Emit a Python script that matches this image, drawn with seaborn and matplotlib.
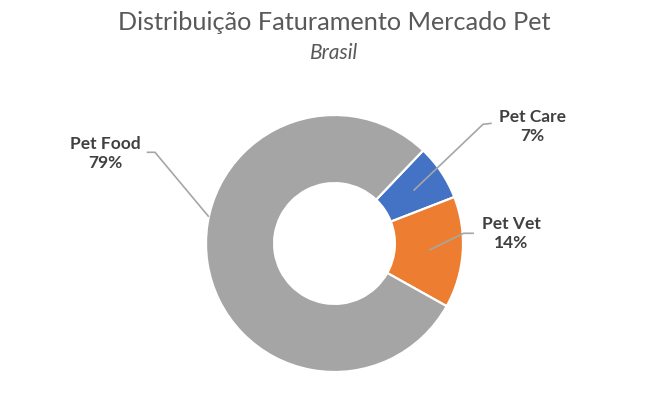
import numpy as np
import matplotlib
matplotlib.use('Agg')
import matplotlib.pyplot as plt
import seaborn as sns

# ---------------------------------------------
# Data
# ---------------------------------------------
categories = ['Pet Care', 'Pet Vet', 'Pet Food']
shares = [7, 14, 79]
slice_colors = ['#4472C4', '#ED7D31', '#A5A5A5']

title = 'Distribuição Faturamento Mercado Pet'
subtitle = 'Brasil'

# ---------------------------------------------
# Style
# ---------------------------------------------
sns.set_theme(style='white')
plt.rcParams['font.family'] = ['Lato', 'DejaVu Sans']

W, H = 650, 401
cx, cy, R = 334.5, 243.5, 128.5   # donut centre and radius in pixels

fig = plt.figure(figsize=(W / 100, H / 100), dpi=100)
ax = fig.add_axes([0, 0, 1, 1])

wedges, _ = ax.pie(shares, colors=sns.color_palette(slice_colors), startangle=46.4,
                   counterclock=False, radius=1,
                   wedgeprops=dict(width=0.53, edgecolor='white', linewidth=1.6))

ax.set_xlim(-cx / R, (W - cx) / R)
ax.set_ylim(-(H - cy) / R, cy / R)
ax.set_aspect('equal')
ax.axis('off')


def px(x, y):
    # pixel position (from top-left) -> data coords
    return (x - cx) / R, (cy - y) / R


# label layout: text centre, elbow, end of leader, anchor radius / angle override
layout = {
    'Pet Care': dict(text=(532.5, 126.5), elbow=(483, 124.3), end=(491.7, 123.3), r=0.74, ang=None),
    'Pet Vet': dict(text=(511, 233.5), elbow=(463.5, 233.3), end=(474, 233.3), r=0.74, ang=None),
    'Pet Food': dict(text=(105, 153.5), elbow=(155, 152.3), end=(146.7, 152.3), r=1.0, ang=168),
}

for w, name, val in zip(wedges, categories, shares):
    lay = layout[name]
    ang = lay['ang'] if lay['ang'] is not None else (w.theta1 + w.theta2) / 2
    a = np.deg2rad(ang)
    anchor = (lay['r'] * np.cos(a), lay['r'] * np.sin(a))
    ex, ey = px(*lay['elbow'])
    nx, ny = px(*lay['end'])
    ax.plot([anchor[0], ex, nx], [anchor[1], ey, ny], color='#A6A6A6', lw=1.2,
            solid_capstyle='butt', zorder=3)
    tx, ty = px(*lay['text'])
    ax.text(tx, ty, f'{name}\n{val}%', ha='center', va='center', fontsize=12.5,
            fontweight='bold', color='#404040', linespacing=1.3)

fig.text(cx / W, 1 - 23 / H, title, ha='center', va='center', fontsize=18.2, color='#595959')
fig.text(cx / W, 1 - 53 / H, subtitle, ha='center', va='center', fontsize=15,
         style='italic', color='#595959')

fig.savefig('out.png', dpi=100, facecolor='white')
